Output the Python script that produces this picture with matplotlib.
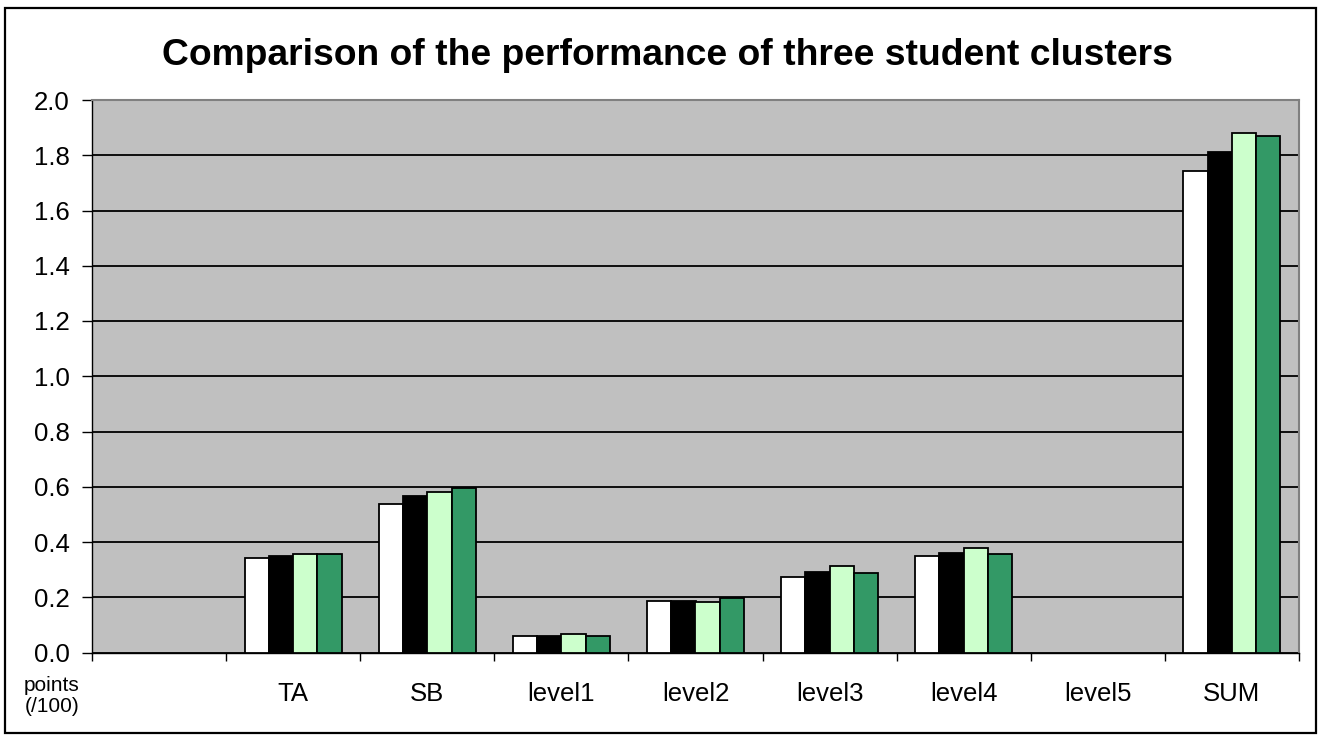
import numpy as np
import matplotlib
matplotlib.use("Agg")
import matplotlib.pyplot as plt
from matplotlib.patches import Rectangle
from matplotlib.ticker import FixedLocator, FormatStrFormatter

plt.rcParams['font.family'] = ['Liberation Sans', 'DejaVu Sans']

# Data (points / 100); NaN means no bar in that category
categories = ["", "TA", "SB", "level1", "level2", "level3", "level4", "level5", "SUM"]
series_1 = [np.nan, 0.342, 0.536, 0.059, 0.185, 0.275, 0.349, np.nan, 1.744]
series_2 = [np.nan, 0.351, 0.568, 0.060, 0.188, 0.291, 0.359, np.nan, 1.812]
series_3 = [np.nan, 0.356, 0.580, 0.066, 0.183, 0.312, 0.378, np.nan, 1.879]
series_4 = [np.nan, 0.356, 0.594, 0.059, 0.199, 0.289, 0.356, np.nan, 1.870]
y_ticks = [0.0, 0.2, 0.4, 0.6, 0.8, 1.0, 1.2, 1.4, 1.6, 1.8, 2.0]

title = "Comparison of the performance of three student clusters"
unit_label = "points\n(/100)"

series = [series_1, series_2, series_3, series_4]
colors = ["#FFFFFF", "#000000", "#CCFFCC", "#339966"]

W, H = 1319, 736
fig = plt.figure(figsize=(W / 100, H / 100), dpi=100)
fig.patch.set_facecolor("white")

# outer chart border
fig.patches.append(Rectangle((5 / W, 3 / H), 1311 / W, 725 / H, transform=fig.transFigure,
                             fill=False, edgecolor="black", linewidth=1.6))

left, right, top, bottom = 92, 1299, 100, 652.5
ax = fig.add_axes([left / W, (H - bottom) / H, (right - left) / W, (bottom - top) / H])
ax.set_facecolor("#C0C0C0")

x = np.arange(len(categories))
bar_w = 0.181
n = len(series)
for i, (vals, c) in enumerate(zip(series, colors)):
    offs = (i - (n - 1) / 2) * bar_w
    ax.bar(x + offs, vals, width=bar_w, color=c, edgecolor="black", linewidth=1.3, zorder=3)

ax.set_xlim(-0.5, len(categories) - 0.5)
ax.set_ylim(0, 2.0)

# y axis
ax.yaxis.set_major_locator(FixedLocator(y_ticks))
ax.yaxis.set_major_formatter(FormatStrFormatter("%.1f"))
ax.tick_params(axis="y", direction="out", length=7, width=1.0, pad=9, labelsize=18.5)
ax.grid(axis="y", color="black", linewidth=1.3, zorder=1)
ax.set_axisbelow(True)

# x axis: tick marks at category boundaries, labels at centres
ax.set_xticks(x)
ax.set_xticklabels(categories)
ax.tick_params(axis="x", which="major", length=0, pad=21, labelsize=18.5)
ax.set_xticks(np.arange(len(categories) + 1) - 0.5, minor=True)
ax.tick_params(axis="x", which="minor", direction="out", length=6, width=1.0)

for s in ["left", "bottom"]:
    ax.spines[s].set_color("black")
    ax.spines[s].set_linewidth(1.0)
for s in ["top", "right"]:
    ax.spines[s].set_color("#808080")
    ax.spines[s].set_linewidth(1.5)

fig.text(52 / W, 1 - 696 / H, unit_label, ha="center", va="center", fontsize=15,
         linespacing=1.1)

fig.text(667 / W, 1 - 65 / H, title, ha="center", va="baseline", fontsize=26.8,
         fontweight="bold")

fig.savefig("out.png", dpi=100)
